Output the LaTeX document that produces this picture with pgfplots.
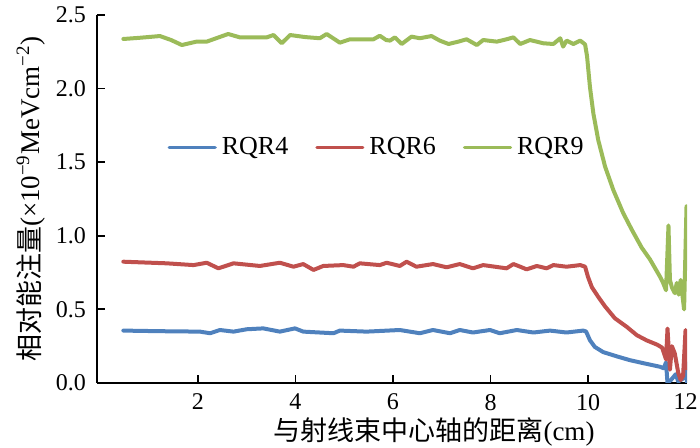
\documentclass[border=0pt]{standalone}
\usepackage{pgfplots}
\pgfplotsset{compat=1.18}
\usepackage{fontspec}
\setmainfont{Liberation Serif}
\newfontfamily\cjk{Noto Sans CJK SC}
\definecolor{cB}{RGB}{79,129,189}
\definecolor{cR}{RGB}{192,80,77}
\definecolor{cG}{RGB}{155,187,89}
\begin{document}
\begin{tikzpicture}
\begin{axis}[name=ax,
  scale only axis, width=295pt, height=184pt,
  xmin=-0.07, xmax=12.03, ymin=0, ymax=2.5,
  axis lines=left, axis line style={-, line width=1pt, black},
  tick style={line width=0.9pt, black}, tick align=inside, major tick length=4pt,
  xtick={2,4,6,8,10,12}, ytick={0,0.5,1,1.5,2,2.5},
  /pgf/number format/assume math mode=true,
  yticklabel style={/pgf/number format/fixed, /pgf/number format/fixed zerofill, /pgf/number format/precision=1, font=\fontsize{12}{12}\selectfont, xshift=-2pt},
  xticklabel style={font=\fontsize{12}{12}\selectfont, yshift=-2pt},
  xlabel={{\cjk 与射线束中心轴的距离}(cm)},
  ylabel={{\cjk 相对能注量}(×10\textsuperscript{−9}MeVcm\textsuperscript{−2})},
  xlabel style={font=\fontsize{13.5}{14}\selectfont, xshift=21pt, yshift=3pt},
  ylabel style={font=\fontsize{13.5}{14}\selectfont, yshift=-1.5pt},
  legend style={draw=none, fill=none, legend columns=3, at={(0.119,0.641)}, anchor=west,
    inner sep=0pt, font=\fontsize{13}{14}\selectfont,
    /tikz/every even column/.append style={column sep=11pt},
    nodes={inner sep=2.5pt}},
  legend image code/.code={\draw[#1, line width=1.6pt, line cap=round] (0pt,0pt) -- (23pt,0pt);},
  every axis plot/.append style={line width=2pt, line join=round, line cap=round},
]
\addplot[cB] coordinates {
(0.47,0.356) (1.2,0.352) (2.04,0.349) (2.25,0.338) (2.45,0.360) (2.73,0.349) (3.0,0.365) (3.34,0.371) (3.68,0.349) (3.99,0.371) (4.16,0.349) (4.78,0.338) (4.91,0.356) (5.46,0.349) (6.14,0.360) (6.55,0.338) (6.82,0.360) (7.17,0.338) (7.37,0.360) (7.64,0.343) (7.99,0.360) (8.19,0.338) (8.54,0.360) (8.88,0.343) (9.22,0.356) (9.56,0.343) (9.90,0.356) (9.96,0.35) (10.04,0.29) (10.14,0.245) (10.31,0.21) (10.6,0.18) (10.86,0.155) (11.13,0.135) (11.48,0.11) (11.55,0.10) (11.60,0.14) (11.63,0.0) (11.70,0.02) (11.80,0.06) (11.85,0.01) (11.95,0.03) (12.0,0.14) (12.03,0.0)
};
\addlegendentry{RQR4}
\addplot[cR] coordinates {
(0.47,0.824) (1.36,0.813) (1.91,0.801) (2.18,0.817) (2.42,0.779) (2.73,0.813) (3.27,0.795) (3.68,0.817) (3.96,0.790) (4.16,0.808) (4.37,0.768) (4.57,0.795) (4.98,0.801) (5.19,0.790) (5.32,0.813) (5.73,0.801) (5.87,0.817) (6.14,0.795) (6.28,0.824) (6.48,0.790) (6.82,0.808) (7.10,0.786) (7.37,0.808) (7.64,0.779) (7.85,0.801) (8.33,0.779) (8.47,0.808) (8.61,0.790) (8.74,0.772) (8.95,0.795) (9.15,0.779) (9.29,0.801) (9.56,0.790) (9.84,0.801) (9.94,0.790) (10.0,0.72) (10.08,0.65) (10.21,0.585) (10.35,0.52) (10.55,0.44) (10.80,0.38) (11.0,0.325) (11.2,0.29) (11.42,0.26) (11.52,0.24) (11.60,0.16) (11.63,0.37) (11.68,0.09) (11.72,0.25) (11.78,0.20) (11.85,0.07) (11.90,0.02) (11.95,0.05) (12.0,0.36) (12.03,0.10)
};
\addlegendentry{RQR6}
\addplot[cG] coordinates {
(0.47,2.337) (0.8,2.345) (1.22,2.357) (1.45,2.33) (1.67,2.296) (1.97,2.319) (2.18,2.319) (2.40,2.345) (2.62,2.371) (2.86,2.348) (3.41,2.348) (3.55,2.364) (3.72,2.308) (3.89,2.364) (4.2,2.35) (4.50,2.342) (4.64,2.371) (4.91,2.312) (5.12,2.335) (5.60,2.335) (5.73,2.359) (5.86,2.33) (5.94,2.326) (6.04,2.348) (6.18,2.303) (6.38,2.353) (6.55,2.342) (6.79,2.357) (6.96,2.326) (7.14,2.303) (7.34,2.319) (7.51,2.335) (7.72,2.296) (7.85,2.330) (8.13,2.319) (8.33,2.335) (8.47,2.348) (8.61,2.303) (8.81,2.330) (9.08,2.308) (9.29,2.303) (9.43,2.342) (9.49,2.285) (9.56,2.326) (9.70,2.303) (9.84,2.326) (9.94,2.300) (9.98,2.22) (10.04,2.01) (10.11,1.83) (10.21,1.65) (10.35,1.47) (10.52,1.31) (10.72,1.155) (10.90,1.04) (11.10,0.92) (11.27,0.84) (11.48,0.72) (11.54,0.68) (11.60,0.63) (11.65,1.07) (11.68,0.70) (11.72,0.65) (11.78,0.61) (11.82,0.68) (11.86,0.60) (11.90,0.70) (11.97,0.50) (12.02,1.20)
};
\addlegendentry{RQR9}
\end{axis}
\pgfresetboundingbox
\path ([xshift=-48.5pt,yshift=-32.5pt]ax.south west) rectangle ([xshift=6.5pt,yshift=7.5pt]ax.north east);
\end{tikzpicture}
\end{document}
